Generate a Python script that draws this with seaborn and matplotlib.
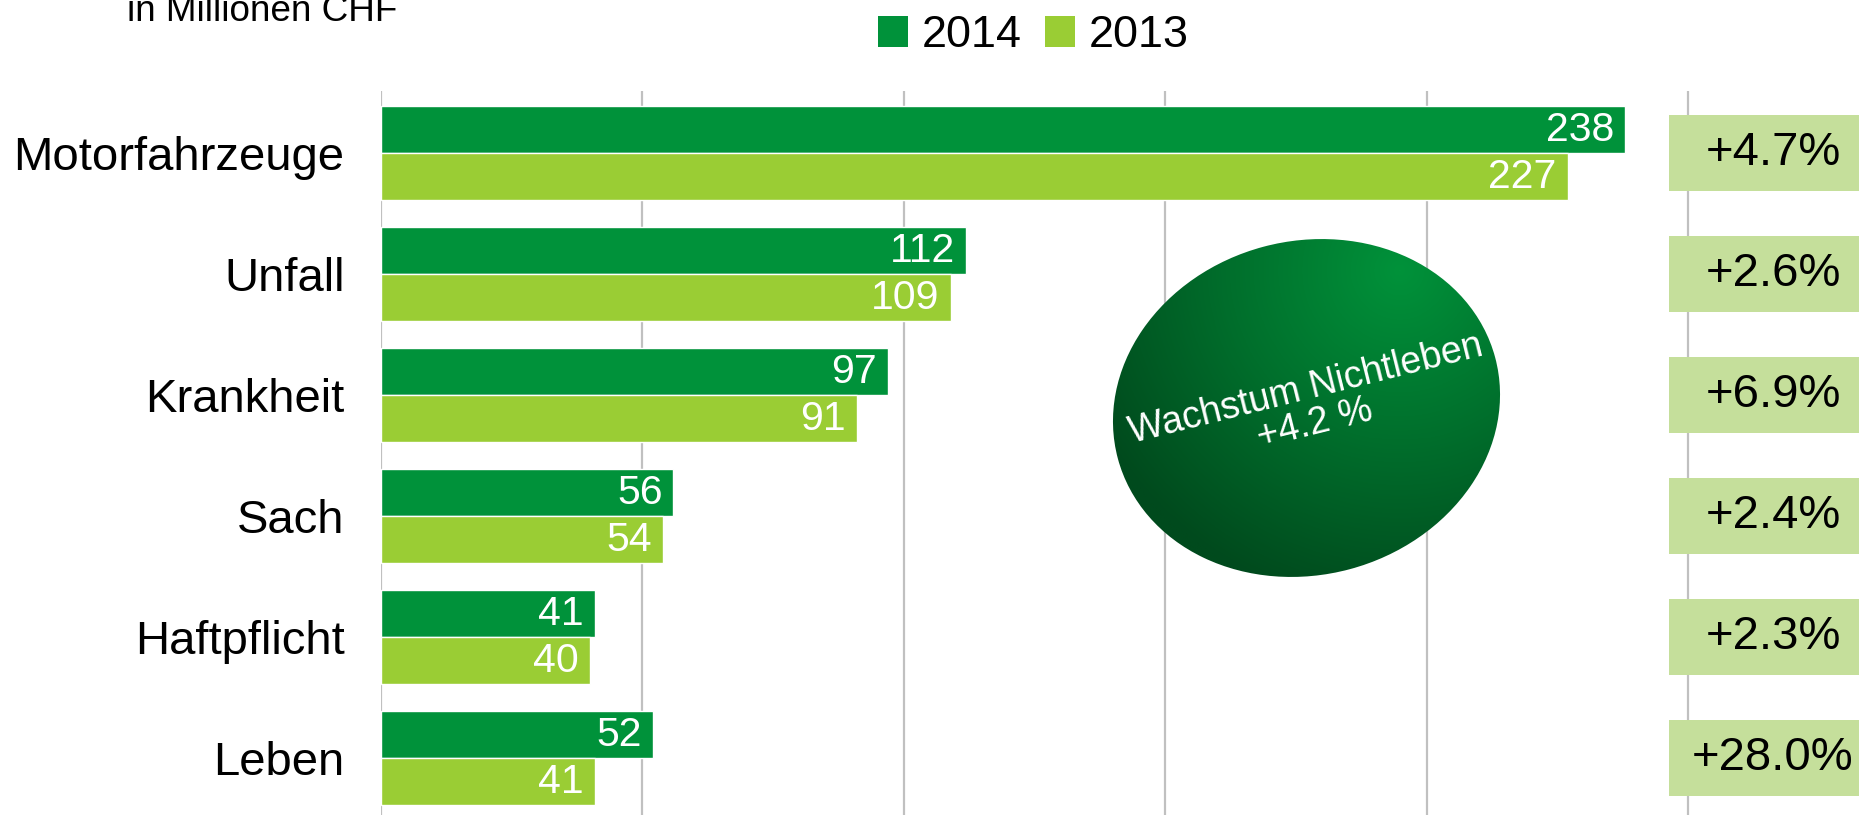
import numpy as np
import pandas as pd
import matplotlib
matplotlib.use("Agg")
import matplotlib.pyplot as plt
import seaborn as sns
from matplotlib.patches import Ellipse, Rectangle, Patch
from matplotlib.colors import LinearSegmentedColormap

categories = ["Motorfahrzeuge", "Unfall", "Krankheit", "Sach", "Haftpflicht", "Leben"]
values_2014 = [238, 112, 97, 56, 41, 52]
values_2013 = [227, 109, 91, 54, 40, 41]
growth_labels = ["+4.7%", "+2.6%", "+6.9%", "+2.4%", "+2.3%", "+28.0%"]
series = ["2014", "2013"]
x_ticks = [0, 50, 100, 150, 200, 250]
title_text = "in Millionen CHF"
bubble_text = "Wachstum Nichtleben\n+4.2 %"

sns.set_theme(style="white")
plt.rcParams["font.family"] = ["Liberation Sans", "DejaVu Sans"]
plt.rcParams["text.color"] = "black"
plt.rcParams["ytick.color"] = "black"
plt.rcParams["xtick.color"] = "black"
plt.rcParams["axes.labelcolor"] = "black"

W, H = 1859, 815
fig = plt.figure(figsize=(W / 100, H / 100), dpi=100)
ax_left = 380.6 / W
ax_top = 1 - 91 / H
ax = fig.add_axes([ax_left, 0, 1 - ax_left, ax_top])

df = pd.DataFrame({
    "Kategorie": categories * 2,
    "Jahr": ["2014"] * len(categories) + ["2013"] * len(categories),
    "Wert": values_2014 + values_2013,
})
colors = {"2014": "#00923A", "2013": "#9ACD34"}
sns.barplot(data=df, y="Kategorie", x="Wert", hue="Jahr", hue_order=series,
            order=categories, palette=colors, width=0.78, orient="h", ax=ax,
            saturation=1, legend=False, zorder=3)

px_per_unit = 5.23
ax.set_xlim(0, (W - 380.6) / px_per_unit)
ax.set_ylim(5.473, -0.511)
ax.set_xticks(x_ticks)
ax.set_xticklabels([])
ax.tick_params(axis="x", length=0)
ax.tick_params(axis="y", length=0, pad=26, labelsize=34, labelcolor="black")
ax.set_xlabel("")
ax.set_ylabel("")
ax.xaxis.grid(True, color="#C0C0C0", lw=1.6)
ax.yaxis.grid(False)
ax.set_axisbelow(True)
for s in ax.spines.values():
    s.set_visible(False)

# value labels inside bar ends
for cont in ax.containers:
    for p in cont.patches:
        w = p.get_width()
        yc = p.get_y() + p.get_height() / 2
        ax.annotate(f"{w:.0f}", xy=(w, yc), xytext=(-11, -1), textcoords="offset pixels",
                    ha="right", va="center", color="white", fontsize=29.5, zorder=5)

# growth boxes on the right
box_x0 = (1669 - 380.6) / px_per_unit
box_tx = (1773 - 380.6) / px_per_unit
for i, lab in enumerate(growth_labels):
    ax.add_patch(Rectangle((box_x0, i - 0.314), 100, 0.628, facecolor="#C5DF9B",
                           edgecolor="none", zorder=4))
    ax.text(box_tx, i, lab, ha="center", va="center", fontsize=34, color="black", zorder=5)

# legend
handles = [Patch(facecolor=colors[s], edgecolor="none") for s in series]
leg = fig.legend(handles, series, loc="center", bbox_to_anchor=(0.556, 0.956), ncol=2,
                 frameon=False, fontsize=32.4, handlelength=0.667, handleheight=0.667,
                 handletextpad=0.31, columnspacing=0.51)
for t in leg.get_texts():
    t.set_color("black")

fig.text(127 / W, 1 - 20.7 / H, title_text, fontsize=26.6, ha="left", va="baseline",
         color="black")

# bubble overlay
ov = fig.add_axes([0, 0, 1, 1])
ov.set_xlim(0, W)
ov.set_ylim(H, 0)
ov.axis("off")
ell = Ellipse((1306.5, 408), 390.6, 333.8, angle=-15, facecolor="none", edgecolor="none")
ov.add_patch(ell)
x0, x1, y0, y1 = 1090, 1525, 220, 600
xs = np.linspace(x0, x1, 450)
ys = np.linspace(y0, y1, 400)
XX, YY = np.meshgrid(xs, ys)
r = np.sqrt((XX - 1400) ** 2 + ((YY - 270) * 1.0) ** 2)
t = np.clip(r / 340, 0, 1)
cmap = LinearSegmentedColormap.from_list("g", ["#00923A", "#006F2C", "#004A1D"])
im = ov.imshow(t, extent=(x0, x1, y1, y0), origin="upper", cmap=cmap, vmin=0, vmax=1,
               aspect="auto", zorder=2)
im.set_clip_path(ell)
ov.text(1310, 407, bubble_text, rotation=14, rotation_mode="anchor", ha="center",
        va="center", multialignment="center", linespacing=1.0, color="white",
        fontsize=27, zorder=3)
ov.set_xlim(0, W)
ov.set_ylim(H, 0)

fig.savefig("out.png", dpi=100)
